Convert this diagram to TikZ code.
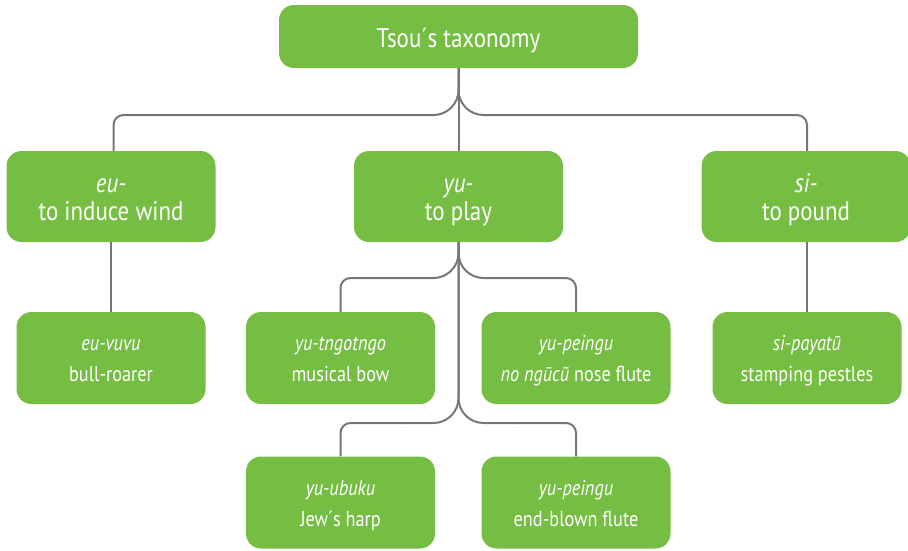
\documentclass[tikz,border=0pt]{standalone}
\usepackage{fontspec}
\setmainfont{PT Sans}[FakeStretch=0.85]
\usetikzlibrary{calc}
\definecolor{boxgreen}{HTML}{76BE43}
\definecolor{linegray}{HTML}{77777A}
\begin{document}
\begin{tikzpicture}[x=1pt,y=-1pt,
  box/.style={fill=boxgreen, draw=none, rounded corners=15pt, inner sep=0pt},
  titlebox/.style={box, minimum width=359pt, minimum height=63pt},
  midbox/.style={box, minimum width=209pt, minimum height=91pt},
  leafbox/.style={box, minimum width=189pt, minimum height=92pt},
  txt/.style={text=white, inner sep=0pt, anchor=base},
  bigtxt/.style={txt, font=\fontsize{27}{30}\selectfont},
  smalltxt/.style={txt, font=\fontsize{21.5}{24}\selectfont},
  conn/.style={draw=linegray, line width=2pt}]
\useasboundingbox (0,0) rectangle (908,550);

% boxes
\node[titlebox] (t) at (458.5,36.5) {};
\node[midbox] (eu) at (111,196.5) {};
\node[midbox] (yu) at (458.5,196.5) {};
\node[midbox] (si) at (806,196.5) {};
\node[leafbox] (vuvu) at (111,358) {};
\node[leafbox] (bow) at (340.5,358) {};
\node[leafbox] (nose) at (576,358) {};
\node[leafbox] (pestle) at (807,358) {};
\node[leafbox] (harp) at (340.5,502.5) {};
\node[leafbox] (endflute) at (576,502.5) {};

% texts
\node[bigtxt] (t-a) at ($(t)+(0,10.5)$) {Tsou´s taxonomy};
\node[bigtxt] (eu-a) at ($(eu)+(0,-4.5)$) {\textit{eu-}};
\node[bigtxt] (eu-b) at ($(eu)+(0,23.5)$) {to induce wind};
\node[bigtxt] (yu-a) at ($(yu)+(0,-4.5)$) {\textit{yu-}};
\node[bigtxt] (yu-b) at ($(yu)+(0,23.5)$) {to play};
\node[bigtxt] (si-a) at ($(si)+(0,-4.5)$) {\textit{si-}};
\node[bigtxt] (si-b) at ($(si)+(0,23.5)$) {to pound};
\node[smalltxt] (vuvu-a) at ($(vuvu)+(0,-7.5)$) {\textit{eu-vuvu}};
\node[smalltxt] (vuvu-b) at ($(vuvu)+(0,23.5)$) {bull-roarer};
\node[smalltxt] (bow-a) at ($(bow)+(0,-7.5)$) {\textit{yu-tngotngo}};
\node[smalltxt] (bow-b) at ($(bow)+(0,23.5)$) {musical bow};
\node[smalltxt] (nose-a) at ($(nose)+(0,-7.5)$) {\textit{yu-peingu}};
\node[smalltxt] (nose-b) at ($(nose)+(0,23.5)$) {\textit{no ngūcū} nose flute};
\node[smalltxt] (pestle-a) at ($(pestle)+(0,-7.5)$) {\textit{si-payatū}};
\node[smalltxt] (pestle-b) at ($(pestle)+(0,23.5)$) {stamping pestles};
\node[smalltxt] (harp-a) at ($(harp)+(0,-7.5)$) {\textit{yu-ubuku}};
\node[smalltxt] (harp-b) at ($(harp)+(0,23.5)$) {Jew´s harp};
\node[smalltxt] (endflute-a) at ($(endflute)+(0,-7.5)$) {\textit{yu-peingu}};
\node[smalltxt] (endflute-b) at ($(endflute)+(0,23.5)$) {end-blown flute};

\coordinate (h1l) at (286,115);
\coordinate (h1r) at (632,115);
\coordinate (h2l) at (400,278);
\coordinate (h2r) at (517,278);
\coordinate (h3l) at (400,423);
\coordinate (h3r) at (517,423);

% level 1
\draw[conn] (t.south) -- (yu.north);
\draw[conn, rounded corners=25pt] (t.south) |- (h1l);
\draw[conn, rounded corners=10pt] (h1l) -| ($(eu.north)+(2.5,0)$);
\draw[conn, rounded corners=25pt] (t.south) |- (h1r);
\draw[conn, rounded corners=10pt] (h1r) -| (pestle.north |- si.north);
% level 2
\draw[conn] (eu.south) -- (vuvu.north);
\draw[conn] (pestle.north |- si.south) -- (pestle.north);
\draw[conn, rounded corners=25pt] (yu.south) |- (h2l);
\draw[conn, rounded corners=10pt] (h2l) -| (bow.north);
\draw[conn, rounded corners=25pt] (yu.south) |- (h2r);
\draw[conn, rounded corners=10pt] (h2r) -| (nose.north);
\draw[conn, rounded corners=25pt] (yu.south) |- (h3l);
\draw[conn, rounded corners=10pt] (h3l) -| (harp.north);
\draw[conn, rounded corners=25pt] (yu.south) |- (h3r);
\draw[conn, rounded corners=10pt] (h3r) -| (endflute.north);
\end{tikzpicture}
\end{document}
